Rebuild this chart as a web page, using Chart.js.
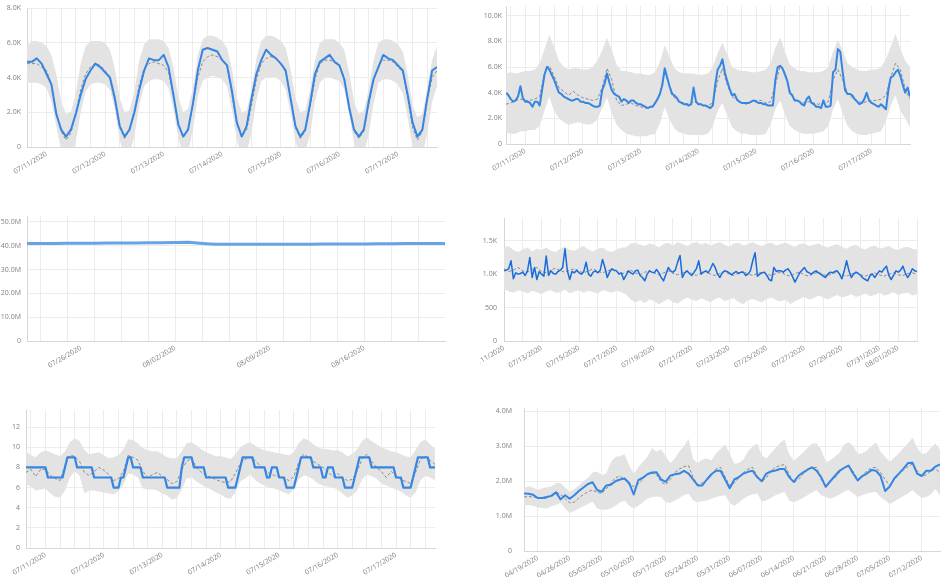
<!DOCTYPE html>
<html>
<head>
<meta charset="utf-8">
<script src="https://cdn.jsdelivr.net/npm/chart.js@4.4.1/dist/chart.umd.min.js"></script>
<style>
  body { margin: 0; background: #fff; width: 946px; height: 577px; position: relative; overflow: hidden; }
  canvas { position: absolute; }
</style>
</head>
<body>
<canvas id="p1"></canvas>
<canvas id="p2"></canvas>
<canvas id="p3"></canvas>
<canvas id="p4"></canvas>
<canvas id="p5"></canvas>
<canvas id="p6"></canvas>
<script>
// six anomaly-band panels: grey band = expected range, dashed = expected, blue = actual

// --- panel 1: hourly-ish traffic, 07/10 16:00 -> 07/17 16:00, every 2h (K)
const p1Actual = [
  4.9,4.9,5.1,4.8,4.2,3.6,1.9,1.0,0.6,
  1.0,1.9,3.0,3.9,4.4,4.8,4.6,4.3,4.0,2.8,1.2,0.6,
  1.0,2.0,3.3,4.4,5.1,5.0,5.0,5.3,4.6,3.0,1.3,0.6,
  1.0,2.5,4.4,5.6,5.7,5.6,5.5,5.0,4.7,3.2,1.4,0.6,
  1.2,2.8,4.2,5.0,5.6,5.3,5.1,4.8,4.4,2.8,1.2,0.6,
  1.0,2.5,4.2,4.9,5.1,5.3,4.9,4.7,3.9,2.3,1.0,0.6,
  1.0,2.6,3.9,4.6,5.3,5.1,5.0,4.7,4.4,3.0,1.4,0.6,
  1.0,2.8,4.4,4.6
];
const p1Expected = [
  4.8,4.8,4.8,4.6,4.4,3.6,2.0,0.9,0.4,
  0.8,2.0,3.3,4.2,4.6,4.8,4.7,4.4,3.9,2.6,1.1,0.5,
  1.0,2.1,3.6,4.5,4.8,4.9,4.8,4.7,4.3,2.9,1.3,0.6,
  1.0,2.4,4.0,4.9,5.2,5.3,5.2,5.0,4.6,3.0,1.3,0.6,
  1.0,2.4,3.9,4.8,5.1,5.2,5.1,4.8,4.3,2.8,1.1,0.5,
  0.9,2.3,3.9,4.8,5.0,5.0,4.9,4.7,4.0,2.2,0.9,0.5,
  0.9,2.4,3.8,4.7,5.0,5.0,4.9,4.6,4.3,2.8,1.1,0.4,
  0.9,2.6,4.0,4.4
];
const p1Upper = [
  5.8,6.1,6.1,6.0,5.8,5.3,4.2,2.6,1.9,
  2.0,3.1,4.8,5.8,6.1,6.1,6.1,6.0,5.6,4.5,2.8,2.0,
  2.1,3.2,5.0,5.9,6.2,6.2,6.2,6.1,5.7,4.6,2.9,2.0,
  2.2,3.4,5.3,6.2,6.4,6.4,6.3,6.1,5.7,4.5,2.8,2.0,
  2.1,3.3,5.1,6.1,6.4,6.4,6.3,6.1,5.7,4.5,2.8,2.0,
  2.1,3.3,5.0,6.0,6.2,6.2,6.2,6.0,5.6,4.3,2.6,1.9,
  2.1,3.3,5.0,6.0,6.2,6.2,6.1,5.9,5.5,4.2,2.4,1.7,
  1.9,3.4,5.0,5.8
];
const p1Lower = [
  3.7,3.7,3.7,3.6,3.4,2.6,1.2,-0.2,-0.8,
  -0.6,0.3,2.0,3.2,3.6,3.7,3.7,3.6,3.3,2.2,0.4,-0.6,
  -0.4,0.6,2.4,3.5,3.8,3.9,3.9,3.8,3.4,2.2,0.5,-0.4,
  -0.3,1.0,2.9,3.8,4.0,4.1,4.0,3.9,3.5,2.1,0.4,-0.5,
  -0.3,0.8,2.7,3.8,4.0,4.0,4.0,3.8,3.3,2.0,0.3,-0.5,
  -0.3,0.7,2.6,3.7,4.0,4.0,3.9,3.8,3.3,1.9,0.2,-0.6,
  -0.4,0.7,2.5,3.7,3.9,3.9,3.8,3.6,3.1,1.7,0.0,-0.8,
  -0.5,0.8,2.6,3.5
];

// --- panel 2: same week, actual hourly, the rest every 2h (K)
const p2Actual = [
  4.0,3.8,3.5,3.3,3.4,3.7,4.5,3.6,3.3,3.3,
  3.2,2.9,3.3,3.3,3.0,4.2,5.4,6.0,5.8,5.4,
  5.0,4.5,4.0,3.9,3.7,3.6,3.5,3.4,3.4,3.5,
  3.5,3.3,3.3,3.2,3.2,3.1,3.0,2.9,2.9,3.0,
  4.2,4.7,5.5,4.8,4.2,3.9,3.8,3.7,3.3,3.5,
  3.4,3.2,3.4,3.4,3.2,3.1,3.1,3.0,2.9,2.8,
  2.9,2.9,3.2,3.5,3.9,4.6,5.9,5.2,4.5,3.9,
  3.8,3.6,3.3,3.2,3.1,3.1,3.0,3.1,4.4,3.3,
  3.1,3.1,3.0,3.0,2.9,2.8,3.0,4.6,5.8,6.1,
  6.6,5.6,4.9,4.3,3.8,3.9,3.5,3.3,3.2,3.2,
  3.2,3.2,3.3,3.4,3.3,3.2,3.2,3.1,3.1,3.0,
  3.0,3.0,5.0,6.0,6.1,5.9,5.4,4.9,4.0,3.8,
  3.4,3.4,3.3,3.1,3.0,3.5,3.7,3.2,3.1,2.9,
  2.9,2.8,3.4,2.9,2.9,3.0,5.6,5.8,7.4,7.2,
  5.6,4.2,3.9,3.9,3.8,3.5,3.3,3.1,3.2,3.5,
  4.0,3.4,3.2,3.1,3.0,2.9,3.1,2.9,2.7,4.2,
  5.2,5.3,5.6,5.8,5.3,4.6,4.0,4.4,3.7
];
const p2Expected = [
  3.1,3.2,3.4,3.5,3.4,3.4,3.5,3.7,5.5,6.1,
  5.3,4.4,4.1,3.8,4.1,3.8,3.6,3.5,3.4,3.5,
  4.4,5.9,5.0,3.4,3.0,3.1,3.2,3.0,2.9,2.8,
  2.9,3.1,4.0,5.6,4.6,3.6,3.3,3.2,3.1,3.3,
  3.2,3.0,3.0,3.2,4.9,5.9,4.6,3.7,3.4,3.2,
  3.1,3.3,3.4,3.4,3.2,3.3,4.6,6.1,5.6,4.2,
  3.5,3.3,3.2,3.3,3.2,3.1,3.2,3.3,5.0,5.8,
  5.0,4.0,3.6,3.4,3.2,3.3,3.4,3.4,3.5,3.8,
  5.2,6.3,5.8,4.3,3.5
];
const p2Upper = [
  5.5,5.6,5.5,5.6,5.7,5.7,5.8,6.3,7.4,8.5,
  7.6,6.5,6.0,5.8,5.9,5.9,5.8,5.8,6.0,6.5,
  7.3,8.3,7.3,6.2,5.7,5.7,5.6,5.5,5.5,5.4,
  5.4,5.6,6.4,7.7,6.8,5.9,5.6,5.5,5.5,5.5,
  5.4,5.4,5.5,6.0,7.1,7.9,7.0,6.0,5.8,5.7,
  5.7,5.6,5.6,5.7,5.8,6.3,7.5,8.3,7.2,6.2,
  5.9,5.7,5.7,5.6,5.6,5.6,5.7,6.0,7.2,8.1,
  7.3,6.3,6.0,5.8,5.7,5.7,5.8,5.8,6.0,6.6,
  7.6,8.6,7.4,6.5,6.0
];
const p2Lower = [
  0.9,0.8,0.8,1.0,1.0,1.1,1.1,1.4,2.6,3.7,
  2.6,2.0,1.7,1.5,1.6,1.7,1.6,1.5,1.6,1.9,
  2.8,3.6,2.4,1.5,1.1,0.8,0.7,0.6,0.6,0.6,
  0.7,0.8,1.6,2.9,1.9,1.2,0.9,0.8,0.7,0.7,
  0.7,0.7,0.8,1.4,2.6,3.2,2.2,1.3,1.0,0.8,
  0.8,0.7,0.7,0.7,0.8,1.5,2.7,3.4,2.3,1.4,
  1.1,0.9,0.8,0.8,0.8,0.9,1.0,1.4,2.7,3.5,
  2.4,1.4,1.0,0.8,0.7,0.7,0.8,0.9,1.0,1.8,
  3.0,3.8,2.6,2.0,1.3
];

// --- panel 3: daily, days relative to 07/26 (-4 .. 27), millions
const p3Actual = [
  41.0,41.0,41.0,41.05,41.1,41.1,41.15,41.2,41.2,41.25,
  41.3,41.4,41.5,41.0,40.6,40.6,40.6,40.6,40.6,40.6,
  40.65,40.65,40.7,40.7,40.75,40.75,40.8,40.85,40.9,40.9,
  40.95,41.0
];
const p3Expected = [41.2, 41.15];

// --- panel 4: 07/11 -> 08/02, actual every 3h, band + expected every 6h (K)
const p4Actual = [
  1.05,1.06,1.08,1.20,0.93,1.02,1.00,1.01,1.03,0.98,
  1.05,1.25,0.95,1.10,0.92,1.04,1.00,0.97,1.27,0.98,
  1.05,1.01,1.00,1.04,1.06,1.10,1.38,1.05,0.92,1.04,
  1.02,1.06,1.02,1.00,1.04,1.18,1.00,0.97,1.03,1.05,
  1.02,1.06,1.22,1.10,0.95,1.03,1.08,1.06,1.05,1.00,
  1.02,0.92,0.98,1.05,1.02,1.00,1.05,1.06,0.98,0.95,
  0.90,1.00,1.05,1.03,1.02,1.07,1.02,0.95,0.90,1.00,
  1.10,1.05,1.03,1.06,1.18,1.28,0.95,1.02,1.05,1.01,
  0.98,1.03,1.08,1.20,1.00,1.03,1.05,1.02,1.08,1.16,
  1.10,1.00,0.95,1.02,1.05,1.04,1.02,0.99,1.02,1.04,
  1.01,1.03,1.03,0.98,1.00,1.05,1.20,1.32,0.97,1.00,
  1.02,1.03,0.98,0.92,0.90,1.10,1.04,1.05,1.05,1.03,
  1.06,1.08,1.03,0.96,0.88,0.95,1.02,1.06,1.10,1.04,
  1.02,1.00,1.03,1.05,1.02,1.00,0.97,0.95,1.00,1.03,
  1.02,1.04,1.05,1.00,0.93,1.05,1.20,1.05,0.95,1.00,
  1.03,1.01,0.98,0.94,0.92,0.90,0.98,1.00,0.95,1.00,
  1.05,1.03,1.08,1.12,0.98,0.92,0.98,1.05,1.03,1.06,
  1.12,1.02,0.95,1.00,1.08,1.05,1.04
];
const p4Expected = [
  1.08,1.04,1.06,1.10,1.05,1.03,1.07,1.10,1.04,1.02,
  1.06,1.09,1.05,1.03,1.06,1.08,1.04,1.02,1.05,1.08,
  1.04,1.02,1.05,1.07,1.03,1.00,1.03,1.06,1.02,0.99,
  1.03,1.05,1.02,0.99,1.02,1.05,1.01,0.99,1.02,1.04,
  1.01,0.98,1.02,1.04,1.00,0.98,1.01,1.04,1.00,0.98,
  1.02,1.04,1.00,0.98,1.01,1.03,1.00,0.98,1.01,1.03,
  0.99,0.97,1.01,1.03,0.99,0.97,1.01,1.03,0.99,0.98,
  1.01,1.03,0.99,0.97,1.00,1.03,0.99,0.97,1.00,1.02,
  0.99,0.97,1.00,1.02,0.99,0.98,1.01,1.02,1.00
];
const p4Upper = [
  1.40,1.42,1.36,1.33,1.37,1.40,1.34,1.38,1.36,1.40,
  1.35,1.33,1.38,1.41,1.36,1.35,1.39,1.42,1.37,1.34,
  1.38,1.40,1.35,1.33,1.37,1.40,1.40,1.46,1.47,1.44,
  1.42,1.46,1.44,1.40,1.45,1.47,1.43,1.48,1.45,1.42,
  1.46,1.48,1.44,1.47,1.43,1.46,1.48,1.44,1.41,1.46,
  1.47,1.43,1.45,1.48,1.44,1.42,1.46,1.47,1.43,1.45,
  1.47,1.44,1.41,1.45,1.46,1.42,1.44,1.46,1.42,1.40,
  1.43,1.45,1.41,1.38,1.42,1.44,1.39,1.37,1.41,1.43,
  1.38,1.40,1.42,1.38,1.36,1.40,1.41,1.38,1.37
];
const p4Lower = [
  0.78,0.74,0.72,0.76,0.74,0.71,0.75,0.73,0.70,0.74,
  0.76,0.72,0.73,0.77,0.71,0.74,0.76,0.72,0.75,0.73,
  0.71,0.76,0.74,0.72,0.75,0.73,0.70,0.62,0.58,0.61,
  0.57,0.62,0.60,0.55,0.59,0.63,0.58,0.56,0.61,0.65,
  0.62,0.60,0.64,0.61,0.58,0.63,0.65,0.60,0.62,0.64,
  0.58,0.55,0.61,0.63,0.60,0.58,0.63,0.65,0.61,0.59,
  0.62,0.55,0.60,0.63,0.66,0.62,0.64,0.68,0.65,0.62,
  0.66,0.69,0.65,0.67,0.70,0.66,0.68,0.71,0.67,0.69,
  0.72,0.68,0.70,0.73,0.69,0.71,0.72,0.68,0.70
];

// --- panel 5: small counts, actual hourly, band + expected every 2h
const p5Actual = [
  8,8,8,8,8,8,8,8,8, 7,7,7,7,7,7,7, 8, 9,9,9,9, 8,8,8,8,8,8,8,
  7,7,7,7,7,7,7,7, 6,6,6, 7,7, 8, 9,9, 8,8,8,8,
  7,7,7,7,7,7,7,7,7,7, 6,6,6,6,6,6, 8, 9,9,9,9, 8,8,8,8,8,
  7,7,7,7,7,7,7,7,7, 6,6,6,6, 7, 8, 9,9,9,9,9, 8,8,8,8,8,
  7,7, 8,8,8, 7,7,7, 6,6,6,6, 7, 8, 9,9,9,9,9, 8,8,8,8,
  7,7, 8,8,8, 7,7,7,7, 6,6,6,6, 7, 8, 9,9,9,9,9,
  8,8,8,8,8,8,8,8,8,8, 7,7,7, 6,6,6,6, 7, 8, 9,9,9,9,9, 8,8,8
];
const p5Expected = [
  7.5,7.8,7.1,7.8,7.8,7.2,6.9,6.7,8.2,9.2,
  9.1,8.6,7.5,7.2,7.6,8.0,7.7,7.3,6.7,6.9,
  7.6,9.2,9.0,8.7,7.6,7.0,7.3,7.5,7.1,6.8,
  6.4,6.6,7.8,8.6,8.9,8.0,7.5,7.2,7.0,6.8,
  6.6,6.5,6.6,7.4,8.4,8.8,9.0,8.7,8.2,7.8,
  7.4,7.2,7.1,6.9,6.7,7.1,8.5,9.3,9.0,8.6,
  8.3,8.0,7.6,7.1,7.4,7.0,6.7,6.8,7.6,8.8,
  9.3,8.6,8.0,7.6,7.0,7.6,7.2,6.8,6.6,6.4,
  7.5,8.8,9.1,8.7,8.3
];
const p5Upper = [
  9.6,9.2,9.0,9.5,9.7,9.5,9.3,9.1,9.6,10.5,
  10.9,10.6,9.7,9.3,9.4,9.5,9.2,8.9,9.0,9.2,
  9.8,10.8,10.7,10.4,9.9,9.7,9.6,9.6,9.3,9.0,
  8.9,8.9,9.6,10.4,10.5,10.2,9.8,9.5,9.3,9.1,
  9.1,9.0,8.8,9.3,10.0,10.3,10.5,10.2,9.9,9.7,
  9.6,9.5,9.4,9.3,9.2,9.5,10.4,10.9,10.7,10.3,
  10.0,9.8,9.8,9.7,9.7,9.5,9.1,9.3,9.8,10.6,
  11.0,10.6,10.3,10.0,9.8,9.6,9.5,9.3,9.1,9.0,
  9.7,10.5,10.8,10.3,9.8
];
const p5Lower = [
  6.3,6.1,5.7,5.8,5.9,5.4,5.1,5.0,5.7,7.0,
  7.6,7.2,5.4,5.7,5.7,5.6,5.5,5.4,5.3,5.6,
  6.3,7.4,7.3,7.0,5.9,5.8,5.8,5.7,5.4,5.2,
  4.8,5.0,5.8,6.9,7.0,6.6,6.3,6.0,5.8,5.5,
  5.3,5.0,4.9,5.5,6.6,6.9,7.3,6.8,6.4,6.2,
  6.0,5.9,5.7,5.5,5.3,5.8,6.8,7.2,7.1,6.8,
  6.4,6.2,6.1,6.0,5.8,5.4,5.0,5.2,5.7,6.8,
  7.3,7.1,6.9,6.4,6.2,6.0,5.8,5.6,5.2,5.0,
  5.5,6.7,7.2,7.0,6.7
];

// --- panel 6: daily 04/16 -> 07/17 (millions)
const p6Actual = [
  1.65,1.64,1.61,1.52,1.52,1.55,1.58,1.68,1.48,1.60,
  1.50,1.60,1.72,1.82,1.92,1.97,1.75,1.70,1.88,1.90,
  2.00,2.05,2.08,1.95,1.62,2.03,2.10,2.20,2.25,2.26,
  2.05,1.98,2.16,2.20,2.22,2.30,2.22,2.05,1.88,1.88,
  2.05,2.20,2.30,2.30,2.05,1.80,2.05,2.12,2.22,2.27,
  2.30,2.12,2.00,2.22,2.28,2.31,2.35,2.35,2.12,1.98,
  2.15,2.25,2.33,2.40,2.30,2.12,1.84,2.00,2.15,2.30,
  2.38,2.45,2.22,2.02,2.15,2.22,2.32,2.30,2.15,1.72,
  1.85,2.08,2.22,2.36,2.52,2.53,2.22,2.15,2.30,2.30,
  2.42,2.48
];
const p6Expected = [
  1.55,1.56,1.55,1.52,1.50,1.52,1.60,1.70,1.62,1.50,
  1.38,1.40,1.52,1.62,1.70,1.75,1.68,1.65,1.78,1.95,
  2.10,2.15,2.05,1.90,1.85,1.92,2.05,2.22,2.24,2.18,
  1.98,1.90,2.05,2.25,2.35,2.42,2.45,2.10,1.90,1.95,
  2.05,2.18,2.35,2.40,2.12,1.88,1.95,2.10,2.25,2.35,
  2.40,2.15,1.98,2.10,2.30,2.40,2.45,2.48,2.20,1.95,
  2.05,2.20,2.32,2.38,2.40,2.05,1.88,2.00,2.10,2.25,
  2.40,2.45,2.28,2.05,2.15,2.30,2.38,2.40,2.25,2.05,
  1.88,2.05,2.20,2.32,2.42,2.50,2.30,2.15,2.18,2.30,
  2.35,2.25
];
const p6Upper = [
  1.80,1.86,1.82,1.75,1.80,1.83,1.85,1.95,1.95,1.82,
  1.70,1.78,1.88,2.00,2.10,2.25,2.28,2.18,2.22,2.55,
  2.70,2.72,2.78,2.45,2.22,2.40,2.55,2.70,2.95,2.85,
  2.92,2.72,2.52,2.65,2.85,3.00,3.22,2.62,2.52,2.62,
  2.65,2.60,2.80,2.92,3.05,2.80,2.50,2.52,2.62,2.85,
  3.00,3.08,2.75,2.65,2.80,2.95,3.10,3.20,2.78,2.58,
  2.70,2.82,2.95,3.08,3.08,2.90,2.55,2.60,2.70,2.82,
  3.05,3.12,3.02,2.78,2.80,2.88,3.00,3.12,2.85,2.70,
  2.55,2.68,2.80,2.95,3.10,3.25,2.95,2.78,2.80,2.95,
  3.08,2.90
];
const p6Lower = [
  1.30,1.32,1.30,1.25,1.23,1.22,1.28,1.32,1.38,1.22,
  1.08,1.15,1.22,1.28,1.35,1.42,1.22,1.18,1.18,1.22,
  1.30,1.40,1.45,1.30,1.22,1.30,1.40,1.50,1.55,1.56,
  1.55,1.40,1.38,1.45,1.52,1.60,1.65,1.45,1.40,1.43,
  1.45,1.50,1.55,1.58,1.60,1.38,1.30,1.38,1.50,1.58,
  1.62,1.65,1.42,1.45,1.52,1.60,1.65,1.70,1.45,1.40,
  1.45,1.52,1.60,1.68,1.75,1.60,1.55,1.50,1.55,1.62,
  1.70,1.75,1.65,1.55,1.60,1.65,1.68,1.70,1.55,1.45,
  1.35,1.42,1.50,1.58,1.65,1.75,1.62,1.52,1.55,1.62,
  1.78,1.60
];

// x tick labels (position on the panel's x unit -> text)
const weekDays = ['07/11/2020','07/12/2020','07/13/2020','07/14/2020','07/15/2020','07/16/2020','07/17/2020'];
const p3Dates = ['07/26/2020','08/02/2020','08/09/2020','08/16/2020'];
const p4Dates = ['07/11/2020','07/13/2020','07/15/2020','07/17/2020','07/19/2020','07/21/2020',
  '07/23/2020','07/25/2020','07/27/2020','07/29/2020','07/31/2020','08/01/2020'];
const p6Dates = ['04/19/2020','04/26/2020','05/03/2020','05/10/2020','05/17/2020','05/24/2020','05/31/2020',
  '06/07/2020','06/14/2020','06/21/2020','06/28/2020','07/05/2020','07/12/2020'];

const BAND = '#e3e3e3', GRID = '#ececec', AXIS = '#d6d6d6', TICK = '#808080', DASH = '#8a8a8a';
Chart.defaults.font.family = '"Open Sans", sans-serif';

function pts(vals, x0, step) {
  return vals.map((v, i) => ({ x: x0 + i * step, y: v }));
}
function range(a, b, s) {
  const out = [];
  for (let v = a; v <= b + 1e-9; v += s) out.push(v);
  return out;
}
function labelsAt(texts, x0, step) {
  const m = {};
  texts.forEach((t, i) => { m[x0 + i * step] = t; });
  return m;
}

const fmtK = (v) => (v === 0 ? '0' : v.toFixed(1) + 'K');
const fmtM = (v) => (v === 0 ? '0' : v.toFixed(1) + 'M');

function buildPanel(cfg) {
  const canvas = document.getElementById(cfg.id);
  canvas.width = cfg.w;
  canvas.height = cfg.h;
  canvas.style.left = cfg.left + 'px';
  canvas.style.top = cfg.top + 'px';

  const gridSet = new Set(cfg.xGrid);
  const xTicks = [...new Set([...cfg.xGrid, ...Object.keys(cfg.xLabels).map(Number)])].sort((a, b) => a - b);

  // order: higher = drawn further back
  const datasets = [];
  if (cfg.band) {
    datasets.push({ data: pts(cfg.band.lower, cfg.band.x0, cfg.band.step), order: 4, borderWidth: 0, borderColor: 'rgba(0,0,0,0)', pointRadius: 0, fill: false });
    datasets.push({ data: pts(cfg.band.upper, cfg.band.x0, cfg.band.step), order: 3, borderWidth: 0, borderColor: 'rgba(0,0,0,0)', pointRadius: 0, fill: '-1', backgroundColor: BAND });
  }
  if (cfg.expected) {
    datasets.push({ data: pts(cfg.expected.vals, cfg.expected.x0, cfg.expected.step), order: 2, borderColor: DASH, borderWidth: 1, borderDash: [3, 2], pointRadius: 0, fill: false });
  }
  datasets.push({ data: pts(cfg.actual.vals, cfg.actual.x0, cfg.actual.step), order: 1, borderColor: cfg.blue, borderWidth: cfg.blueWidth, pointRadius: 0, fill: false, borderJoinStyle: 'round' });

  new Chart(canvas, {
    type: 'line',
    data: { datasets },
    options: {
      responsive: false, animation: false,
      layout: { padding: { top: cfg.padTop, right: cfg.padRight, left: 0, bottom: 0 } },
      plugins: { legend: { display: false }, tooltip: { enabled: false }, filler: { drawTime: 'beforeDatasetsDraw' } },
      elements: { line: { tension: 0 } },
      scales: {
        x: {
          type: 'linear', min: cfg.xMin, max: cfg.xMax,
          afterBuildTicks: (s) => { s.ticks = xTicks.map((v) => ({ value: v })); },
          afterFit: (s) => { s.height = cfg.xH; s.paddingLeft = 0; s.paddingRight = 0; },
          ticks: {
            autoSkip: false, maxRotation: 30, minRotation: 30, padding: 3,
            color: TICK, font: { size: 7 },
            callback: (v) => cfg.xLabels[v] || '',
          },
          grid: { drawTicks: false, color: (ctx) => (ctx.tick && gridSet.has(ctx.tick.value) ? GRID : 'rgba(0,0,0,0)') },
          border: { color: AXIS },
        },
        y: {
          min: 0, max: cfg.yMax,
          afterBuildTicks: (s) => { s.ticks = cfg.yTicks.map((v) => ({ value: v })); },
          afterFit: (s) => { s.width = cfg.yW; s.paddingTop = 0; s.paddingBottom = 0; },
          ticks: { color: TICK, font: { size: 7 }, padding: cfg.yPad, callback: cfg.yFmt },
          grid: { drawTicks: false, color: GRID },
          border: { color: AXIS },
        },
      },
    },
  });
}

const BLUE = '#3585e2';

buildPanel({
  id: 'p1', left: 0, top: 0, w: 450, h: 178, yW: 27, xH: 31, padTop: 8, padRight: 13, yPad: 6,
  xMin: 0, xMax: 168, xGrid: range(2, 164, 6), xLabels: labelsAt(weekDays, 8, 24),
  yMax: 8, yTicks: [0, 2, 4, 6, 8], yFmt: fmtK,
  band: { lower: p1Lower, upper: p1Upper, x0: 0, step: 2 },
  expected: { vals: p1Expected, x0: 0, step: 2 },
  actual: { vals: p1Actual, x0: 0, step: 2 }, blue: BLUE, blueWidth: 2,
});

buildPanel({
  id: 'p2', left: 480, top: 0, w: 440, h: 178, yW: 26, xH: 34, padTop: 6, padRight: 10, yPad: 4,
  xMin: 0, xMax: 168, xGrid: range(2, 164, 6), xLabels: labelsAt(weekDays, 8, 24),
  yMax: 10.76, yTicks: [0, 2, 4, 6, 8, 10], yFmt: fmtK,
  band: { lower: p2Lower, upper: p2Upper, x0: 0, step: 2 },
  expected: { vals: p2Expected, x0: 0, step: 2 },
  actual: { vals: p2Actual, x0: 0, step: 1 }, blue: BLUE, blueWidth: 2,
});

buildPanel({
  id: 'p3', left: 0, top: 200, w: 460, h: 178, yW: 27, xH: 37, padTop: 16, padRight: 15, yPad: 6,
  xMin: -4, xMax: 27, xGrid: range(-3, 25, 2), xLabels: labelsAt(p3Dates, 0, 7),
  yMax: 52.5, yTicks: [0, 10, 20, 30, 40, 50], yFmt: fmtM,
  expected: { vals: p3Expected, x0: -3.4, step: 0.6 },
  actual: { vals: p3Actual, x0: -4, step: 1 }, blue: '#6aa2e6', blueWidth: 3,
});

buildPanel({
  id: 'p4', left: 480, top: 200, w: 450, h: 178, yW: 24, xH: 37, padTop: 18, padRight: 13, yPad: 7,
  xMin: 0, xMax: 528, xGrid: range(24, 528, 24), xLabels: Object.assign(labelsAt(p4Dates.slice(0, 11), 0, 48), { 504: p4Dates[11] }),
  yMax: 1.84, yTicks: [0, 0.5, 1, 1.5],
  yFmt: (v) => (v === 0 ? '0' : v < 1 ? String(Math.round(v * 1000)) : v.toFixed(1) + 'K'),
  band: { lower: p4Lower, upper: p4Upper, x0: 0, step: 6 },
  expected: { vals: p4Expected, x0: 0, step: 6 },
  actual: { vals: p4Actual, x0: 0, step: 3 }, blue: '#1a6cdb', blueWidth: 1.5,
});

buildPanel({
  id: 'p5', left: 0, top: 400, w: 450, h: 177, yW: 26, xH: 29, padTop: 10, padRight: 15, yPad: 6,
  xMin: 0, xMax: 168, xGrid: range(2, 164, 6), xLabels: labelsAt(weekDays, 8, 24),
  yMax: 13.7, yTicks: [0, 2, 4, 6, 8, 10, 12], yFmt: (v) => String(v),
  band: { lower: p5Lower, upper: p5Upper, x0: 0, step: 2 },
  expected: { vals: p5Expected, x0: 0, step: 2 },
  actual: { vals: p5Actual, x0: 0, step: 1 }, blue: BLUE, blueWidth: 2.2,
});

buildPanel({
  id: 'p6', left: 480, top: 400, w: 466, h: 177, yW: 44, xH: 26, padTop: 8, padRight: 6, yPad: 12,
  xMin: 0, xMax: 91, xGrid: range(3, 87, 7), xLabels: labelsAt(p6Dates, 3, 7),
  yMax: 4.1, yTicks: [0, 1, 2, 3, 4], yFmt: fmtM,
  band: { lower: p6Lower, upper: p6Upper, x0: 0, step: 1 },
  expected: { vals: p6Expected, x0: 0, step: 1 },
  actual: { vals: p6Actual, x0: 0, step: 1 }, blue: BLUE, blueWidth: 2,
});
</script>
</body>
</html>
